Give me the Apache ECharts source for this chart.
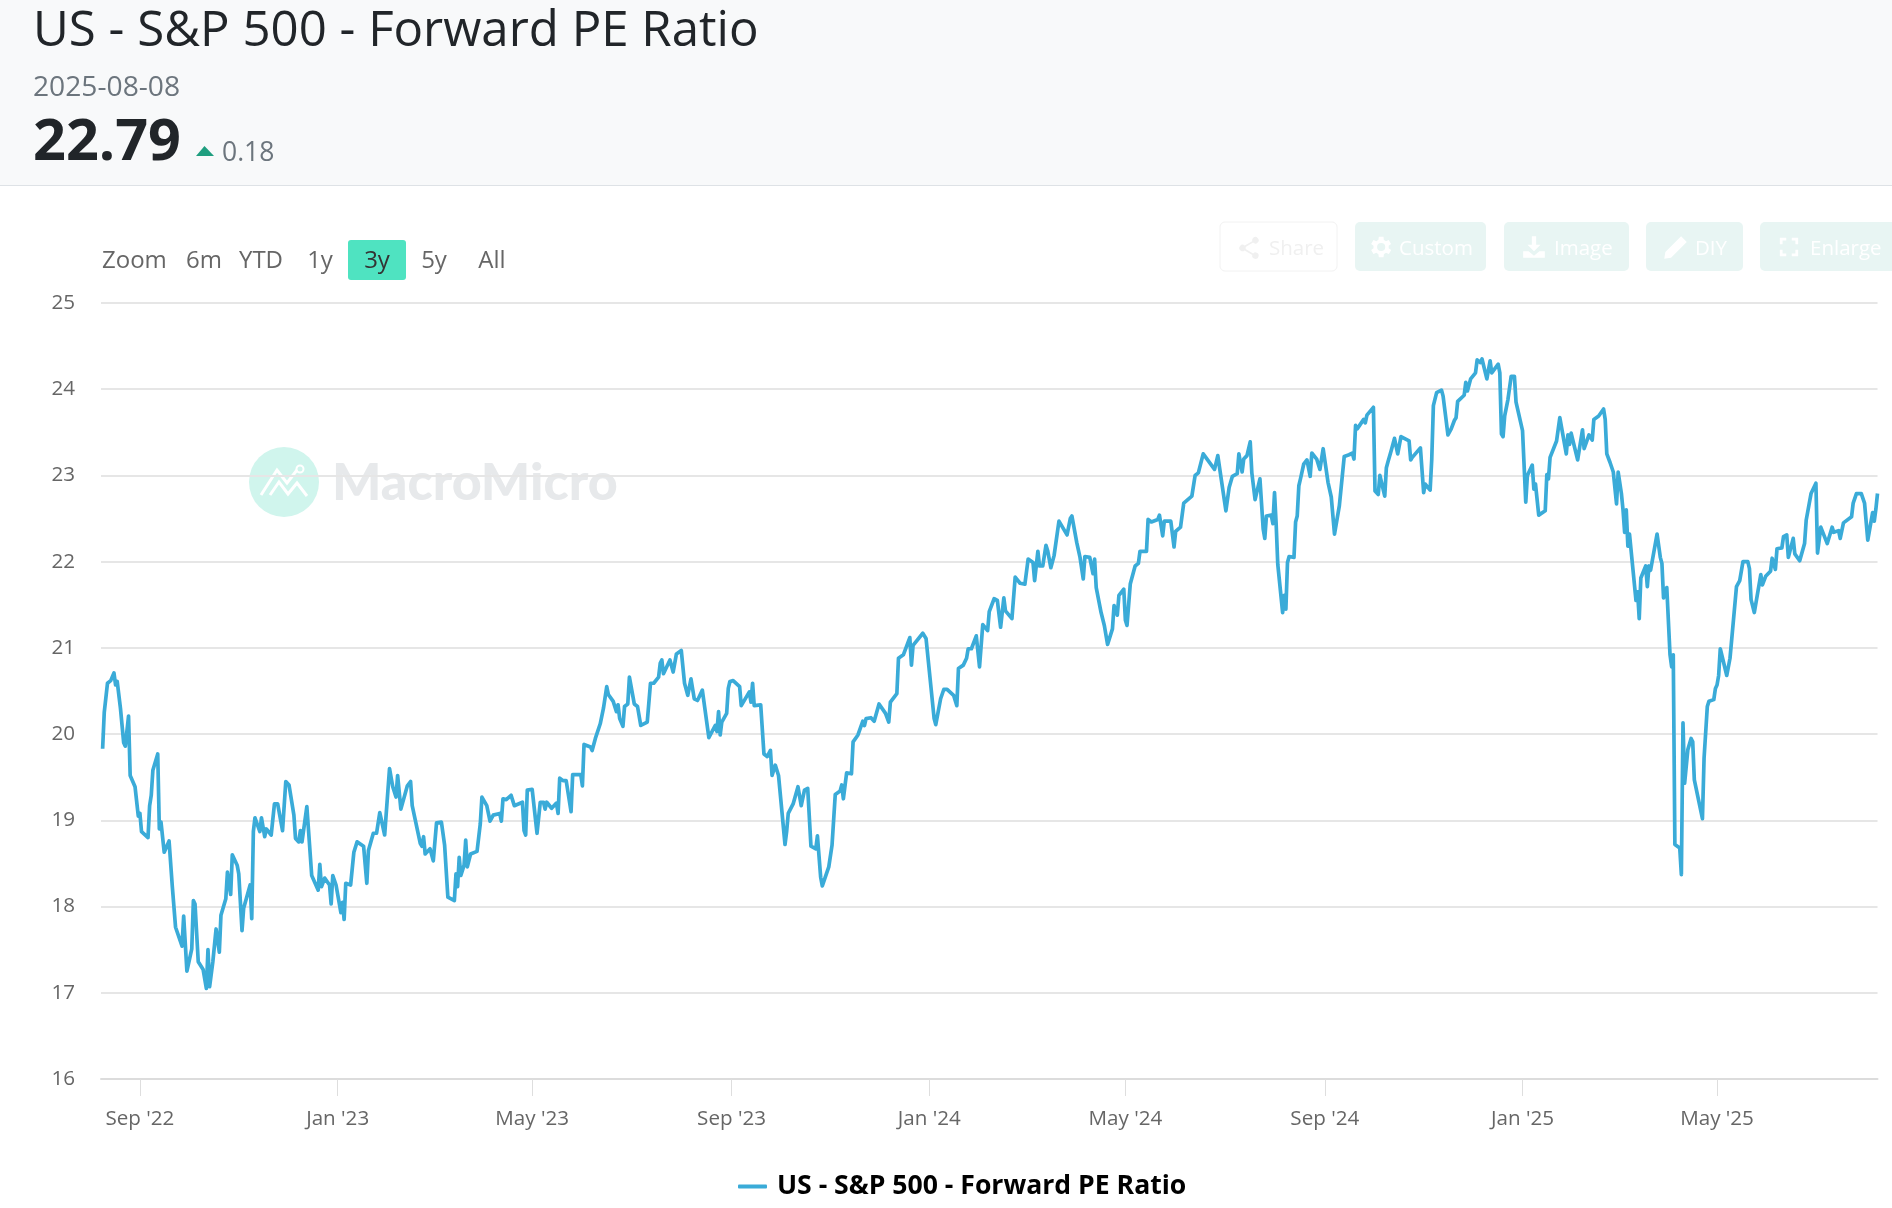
<!DOCTYPE html>
<html>
<head>
<meta charset="utf-8">
<title>US - S&amp;P 500 - Forward PE Ratio</title>
<script src="https://cdn.jsdelivr.net/npm/echarts@6/dist/echarts.min.js"></script>
<style>html,body{margin:0;padding:0;background:#fff}#chart{width:1892px;height:1208px}</style>
</head>
<body>
<div id="chart"></div>
<script>
const seriesName = "US - S&P 500 - Forward PE Ratio";
const startDate = "2022-08-08";
const endDate = "2025-08-08";
const latestDate = "2025-08-08";
const latestValue = "22.79";
const latestChange = "0.18";
const rangeLabels = ["6m", "YTD", "1y", "3y", "5y", "All"];
const tickDates = ["2022-09-01","2023-01-01","2023-05-01","2023-09-01","2024-01-01","2024-05-01","2024-09-01","2025-01-01","2025-05-01"];
const tickLabels = ["Sep '22","Jan '23","May '23","Sep '23","Jan '24","May '24","Sep '24","Jan '25","May '25"];
const daysSinceStart = [
1,2,3,4,6,8,9,10,12,14,15,17,18,21,23,
24,25,29,30,31,32,35,36,37,39,42,44,46,50,51,
53,56,57,58,60,63,65,66,67,69,71,73,74,77,78,
80,81,84,85,87,88,92,93,94,95,98,99,101,102,105,
107,109,112,113,114,116,119,120,122,123,124,127,130,134,135,
136,138,141,142,143,145,148,149,150,151,154,156,158,162,164,
165,168,170,172,175,178,180,182,183,185,189,191,192,197,198,
199,200,203,205,207,210,212,213,214,218,219,220,221,222,224,
225,226,228,232,234,235,238,240,242,246,247,248,250,253,254,
255,260,261,262,263,266,269,271,273,274,275,278,281,282,283,
285,287,290,291,296,297,298,302,303,305,308,310,311,312,313,
316,318,319,320,322,323,325,326,329,331,333,337,339,341,344,
345,346,347,351,353,355,358,360,362,364,366,368,371,375,376,
379,380,381,382,383,386,387,388,390,394,395,396,400,401,402,
403,407,409,411,413,414,415,416,418,422,423,424,427,430,432,
434,436,438,441,442,444,445,449,451,453,456,457,458,460,463,
464,467,470,471,472,475,477,478,480,484,486,487,491,492,493,
495,499,500,501,507,508,509,514,515,518,519,520,522,526,528,
529,532,534,535,537,540,541,542,544,547,548,549,551,553,555,
557,558,562,564,567,570,572,575,576,578,579,581,583,584,586,
588,591,592,596,598,599,602,604,605,606,607,610,611,612,613,
614,617,619,621,624,625,626,627,628,631,632,633,635,638,640,
641,645,646,648,652,653,655,656,660,662,663,666,668,669,673,
675,677,680,687,689,690,694,696,698,701,702,704,705,707,709,
710,712,715,716,717,718,719,722,723,724,725,726,729,730,731,
732,733,736,737,738,739,740,742,743,744,746,747,750,752,753,
754,757,759,761,764,767,770,772,773,774,775,779,780,781,782,
785,786,788,789,792,793,794,796,798,800,802,807,808,809,814,
816,817,820,821,822,824,827,828,829,831,833,835,836,837,841,
842,843,845,848,849,851,852,855,857,858,859,862,863,864,865,
866,868,870,872,873,877,879,880,883,884,885,887,891,892,893,
894,898,900,904,905,906,907,911,914,915,918,920,921,924,927,
928,929,931,933,934,935,936,938,939,940,941,942,943,947,948,
949,950,953,954,955,956,957,960,961,962,963,964,966,968,969,
970,971,974,975,976,977,979,981,982,983,984,988,989,991,992,
995,996,997,998,999,1003,1005,1006,1009,1011,1013,1016,1017,1018,1019,
1020,1024,1025,1027,1030,1031,1033,1034,1037,1038,1040,1041,1044,1045,1048,
1051,1052,1053,1055,1058,1059,1061,1065,1068,1069,1072,1073,1075,1080,1081,
1083,1086,1088,1090,1093,1094,1095,1096
];
const forwardPE = [
19.83,20.25,20.25,20.59,20.62,20.71,20.57,20.61,20.30,19.90,19.86,20.21,19.52,19.39,19.05,
19.08,18.87,18.80,19.17,19.29,19.58,19.77,18.90,18.98,18.63,18.76,18.23,17.76,17.54,17.89,
17.25,17.51,18.07,18.03,17.36,17.27,17.05,17.50,17.07,17.36,17.74,17.47,17.90,18.09,18.40,
18.14,18.60,18.48,18.38,17.72,17.98,18.25,17.86,18.87,19.03,18.87,19.03,18.81,18.90,18.83,
19.19,19.19,18.88,18.86,19.45,19.41,19.06,18.79,18.75,18.88,18.75,19.16,18.36,18.19,18.49,
18.23,18.33,18.25,18.03,18.36,18.25,17.93,18.05,17.85,18.27,18.25,18.63,18.75,18.70,18.27,
18.65,18.85,18.85,19.09,18.83,19.60,19.39,19.27,19.52,19.13,19.40,19.45,19.17,18.73,18.70,
18.81,18.61,18.67,18.53,18.97,18.98,18.71,18.71,18.11,18.07,18.38,18.23,18.57,18.36,18.48,
18.77,18.46,18.61,18.64,18.96,19.27,19.17,18.99,19.06,19.08,18.99,19.25,19.24,19.29,19.29,
19.17,19.21,18.88,18.83,19.35,19.36,18.85,19.21,19.21,19.13,19.21,19.14,19.20,19.08,19.49,
19.46,19.46,19.10,19.53,19.53,19.40,19.88,19.85,19.81,19.95,20.12,20.30,20.30,20.55,20.46,
20.38,20.26,20.34,20.18,20.09,20.32,20.35,20.66,20.35,20.32,20.10,20.14,20.59,20.59,20.66,
20.82,20.86,20.70,20.86,20.72,20.93,20.97,20.59,20.45,20.64,20.41,20.39,20.51,19.96,19.97,
20.10,20.03,20.26,19.99,20.14,20.24,20.53,20.61,20.62,20.55,20.33,20.33,20.49,20.37,20.59,
20.33,20.34,19.77,19.74,19.81,19.52,19.52,19.64,19.52,18.72,18.87,19.08,19.19,19.39,19.17,
19.35,19.37,18.70,18.67,18.82,18.34,18.24,18.46,18.71,19.30,19.34,19.41,19.25,19.55,19.54,
19.91,19.99,20.15,20.10,20.18,20.19,20.15,20.15,20.35,20.24,20.14,20.37,20.47,20.88,20.90,
20.92,21.12,20.80,21.03,21.17,21.19,21.11,20.18,20.11,20.41,20.43,20.52,20.52,20.45,20.33,
20.76,20.80,20.88,20.99,20.99,21.14,21.14,20.78,21.27,21.20,21.42,21.44,21.57,21.55,21.24,
21.58,21.43,21.34,21.82,21.75,21.74,22.03,21.99,21.78,22.12,21.95,21.95,22.19,22.13,21.93,
22.07,22.47,22.47,22.31,22.50,22.53,22.22,22.05,22.06,21.80,22.06,22.05,22.07,21.86,22.03,
21.70,21.41,21.26,21.04,21.22,21.49,21.47,21.38,21.61,21.68,21.32,21.26,21.74,21.95,21.98,
22.12,22.12,22.49,22.46,22.49,22.54,22.30,22.47,22.47,22.17,22.35,22.40,22.68,22.68,22.76,
23.00,23.03,23.25,23.07,23.23,23.23,22.59,22.86,22.99,23.02,23.25,23.04,23.19,23.23,23.39,
23.03,22.72,22.96,22.94,22.38,22.27,22.53,22.54,22.44,22.80,22.44,21.97,21.41,21.61,21.45,
21.99,22.06,22.05,22.46,22.53,22.88,22.96,23.13,23.15,23.18,22.99,23.26,23.19,23.07,23.07,
23.31,22.92,22.75,22.32,22.65,23.22,23.24,23.26,23.19,23.58,23.54,23.65,23.61,23.70,23.69,
23.79,22.82,22.78,23.00,22.76,23.09,23.16,23.29,23.43,23.25,23.45,23.40,23.18,23.21,23.32,
22.80,22.90,22.83,23.19,23.81,23.96,23.99,23.92,23.90,23.47,23.54,23.64,23.67,23.86,23.93,
24.08,23.98,24.12,24.19,24.34,24.31,24.35,24.12,24.33,24.19,24.20,24.29,24.19,23.48,23.45,
23.69,23.88,24.15,24.15,23.85,23.52,22.69,23.00,23.12,22.84,22.90,22.54,22.59,23.01,22.96,
23.21,23.40,23.67,23.25,23.47,23.36,23.49,23.18,23.53,23.31,23.47,23.41,23.65,23.69,23.77,
23.65,23.25,23.15,23.04,23.04,22.67,23.04,22.79,22.60,22.34,22.60,22.18,22.32,21.55,21.65,
21.34,21.81,21.95,21.71,21.95,21.90,21.92,22.32,22.34,22.05,21.98,21.58,21.70,20.92,20.78,
20.92,18.72,18.68,18.37,20.13,19.43,19.82,19.95,19.91,19.47,19.47,19.02,19.72,20.32,20.38,
20.40,20.53,20.57,20.68,20.99,20.68,20.88,20.90,21.71,21.78,22.00,22.00,21.92,21.56,21.56,
21.41,21.85,21.73,21.83,21.89,22.04,21.91,22.15,22.16,22.29,22.31,22.05,22.27,22.09,22.01,
22.21,22.48,22.50,22.79,22.91,22.10,22.40,22.21,22.40,22.34,22.36,22.27,22.45,22.52,22.68,
22.79,22.79,22.68,22.25,22.57,22.47,22.61,22.79
];

const FONT = '"Open Sans","Noto Sans",sans-serif';
const DAY = 86400000;
const t0 = Date.parse(startDate);
const lineData = daysSinceStart.map((d, i) => [t0 + d * DAY, forwardPE[i]]);
const tickValues = tickDates.map(d => Date.parse(d));

const iconPaths = {
  iconShare: 'M18 16a3 3 0 0 0-2.2 1L8.9 13a3 3 0 0 0 0-2l6.9-4a3 3 0 1 0-.9-2 3 3 0 0 0 .1.7L8 9.7a3 3 0 1 0 0 4.6l7 4.1a3 3 0 1 0 3-2.4z',
  iconGear: 'M19.4 13a7.6 7.6 0 0 0 0-2l2.1-1.6-2-3.4-2.5 1a7.6 7.6 0 0 0-1.7-1L15 3.3h-4L10.6 6a7.6 7.6 0 0 0-1.7 1l-2.5-1-2 3.4L6.5 11a7.6 7.6 0 0 0 0 2l-2.1 1.6 2 3.4 2.5-1a7.6 7.6 0 0 0 1.7 1l.4 2.7h4l.4-2.7a7.6 7.6 0 0 0 1.7-1l2.5 1 2-3.4zM13 15.5a3.5 3.5 0 1 1 0-7 3.5 3.5 0 0 1 0 7z',
  iconDownload: 'M10 2h4v8h4l-6 6-6-6h4zM2 16h5l5 4 5-4h5v6H2z',
  iconPencil: 'M17 2l5 5L8 21l-6 1 1-6z',
  iconEnlarge: 'M2 2h7v3H5v4H2zM15 2h7v7h-3V5h-4zM2 15h3v4h4v3H2zM19 15h3v7h-7v-3h4z'
};
Object.keys(iconPaths).forEach(function (k) {
  echarts.graphic.registerShape(k, echarts.graphic.extendPath(iconPaths[k], {}));
});

function txt(x, y, text, size, fill, opts) {
  return {
    type: 'text', x: x, y: y, z: 5, silent: true,
    style: {
      text: text, fill: fill, font: (opts && opts.weight ? opts.weight + ' ' : '') + size + 'px ' + FONT,
      textAlign: (opts && opts.align) || 'left', textVerticalAlign: 'middle'
    }
  };
}
function box(x, y, w, h, fill, stroke, r) {
  return { type: 'rect', z: 3, silent: true, shape: { x: x, y: y, width: w, height: h, r: r === undefined ? 5 : r },
    style: { fill: fill, stroke: stroke || null, lineWidth: stroke ? 1 : 0 } };
}
function icon(name, x, y, size, fill) {
  return { type: name, z: 5, silent: true, x: x, y: y, scaleX: size / 24, scaleY: size / 24, shape: {}, style: { fill: fill } };
}

const BTN = '#e8f5f3';
const graphics = [
  { type: 'rect', z: -3, silent: true, shape: { x: 0, y: 0, width: 1892, height: 185 }, style: { fill: '#f8f9fa' } },
  { type: 'rect', z: -3, silent: true, shape: { x: 0, y: 185, width: 1892, height: 1 }, style: { fill: '#dee2e6' } },
  txt(33, 88, latestDate, 28.2, '#6c757d'),
  txt(33, 144, latestValue, 57.5, '#212529', { weight: 700 }),
  { type: 'polygon', z: 5, silent: true, shape: { points: [[196, 156], [204.5, 146], [214, 156]] }, style: { fill: '#1f9e7f' } },
  txt(222, 153, latestChange, 26.5, '#6c757d'),
  box(348, 240, 58, 40, '#4fe3c1', null, 3),
  txt(102, 261, 'Zoom', 24, '#666666'),
  txt(204, 261, rangeLabels[0], 24, '#666666', { align: 'center' }),
  txt(261, 261, rangeLabels[1], 24, '#666666', { align: 'center' }),
  txt(320, 261, rangeLabels[2], 24, '#666666', { align: 'center' }),
  txt(377, 261, rangeLabels[3], 24, '#333333', { align: 'center' }),
  txt(434, 261, rangeLabels[4], 24, '#666666', { align: 'center' }),
  txt(492, 261, rangeLabels[5], 24, '#666666', { align: 'center' }),

  box(1220, 222, 117, 49, '#ffffff', '#f2f2f2'),
  icon('iconShare', 1236, 235, 26, '#f0f0f0'),
  txt(1269, 249, 'Share', 20.5, '#f0f0f0'),
  box(1355, 222, 131, 49, BTN),
  icon('iconGear', 1366, 233, 28, '#ffffff'),
  txt(1399, 249, 'Custom', 20.5, '#ffffff'),
  box(1504, 222, 125, 49, BTN),
  icon('iconDownload', 1521, 234, 26, '#ffffff'),
  txt(1554, 249, 'Image', 20.5, '#ffffff'),
  box(1646, 222, 97, 49, BTN),
  icon('iconPencil', 1662, 234, 27, '#ffffff'),
  txt(1695, 249, 'DIY', 20.5, '#ffffff'),
  box(1760, 222, 140, 49, BTN),
  icon('iconEnlarge', 1778, 236, 22, '#ffffff'),
  txt(1810, 249, 'Enlarge', 20.5, '#ffffff'),

  { type: 'circle', z: -1, silent: true, shape: { cx: 284, cy: 482, r: 35 }, style: { fill: '#d0f5ed' } },
  { type: 'polyline', z: -1, silent: true, shape: { points: [[261, 495], [277, 470], [287, 483], [297, 470]] }, style: { stroke: '#fff', lineWidth: 3, fill: null } },
  { type: 'polyline', z: -1, silent: true, shape: { points: [[270, 495], [279, 482], [288, 494], [297, 483], [307, 496]] }, style: { stroke: '#fff', lineWidth: 3, fill: null } },
  { type: 'circle', z: -1, silent: true, shape: { cx: 300, cy: 469, r: 3.5 }, style: { fill: null, stroke: '#fff', lineWidth: 2 } },
  { type: 'text', z: -1, silent: true, x: 332, y: 483, style: { text: 'MacroMicro', fill: '#e7e9eb', font: '900 52px Lato,' + FONT, textAlign: 'left', textVerticalAlign: 'middle' } }
];

const chart = echarts.init(document.getElementById('chart'), null, { renderer: 'canvas', width: 1892, height: 1208 });
chart.setOption({
  animation: false,
  backgroundColor: '#ffffff',
  textStyle: { fontFamily: FONT },
  title: { text: seriesName, left: 33, top: 7, padding: 0, textStyle: { fontSize: 49.2, fontWeight: 400, color: '#212529', fontFamily: FONT } },
  legend: {
    data: [{ name: seriesName }], bottom: 8, left: 738, padding: 0, icon: 'roundRect', itemWidth: 29, itemHeight: 4, itemGap: 10,
    textStyle: { fontSize: 26.6, fontWeight: 700, color: '#000000', fontFamily: FONT, padding: [0, 0, 0, 5] }
  },
  grid: { left: 101, right: 14.5, top: 303, height: 776, containLabel: false },
  xAxis: {
    type: 'value', min: t0, max: Date.parse(endDate), scale: true,
    axisLine: { show: true, onZero: false, lineStyle: { color: '#dcdcdc', width: 2 } },
    axisTick: { show: true, length: 17, customValues: tickValues, lineStyle: { color: '#dedede', width: 1 } },
    axisLabel: {
      show: true, customValues: tickValues, margin: 30, fontSize: 20.6, color: '#666666', fontFamily: FONT,
      formatter: function (v) { const i = tickValues.indexOf(+v); return i >= 0 ? tickLabels[i] : ''; }
    },
    splitLine: { show: false }
  },
  yAxis: {
    type: 'value', min: 16, max: 25, interval: 1,
    axisLine: { show: false }, axisTick: { show: false },
    axisLabel: { margin: 26, fontSize: 20.6, color: '#666666', fontFamily: FONT },
    splitLine: { show: true, lineStyle: { color: '#e6e6e6', width: 2 } }
  },
  series: [{
    name: seriesName, type: 'line', data: lineData, showSymbol: false, symbol: 'none', smooth: false,
    sampling: null, clip: false, z: 4,
    lineStyle: { color: '#3aabd8', width: 3.7, join: 'round' }, itemStyle: { color: '#3aabd8' }
  }],
  graphic: { elements: graphics }
});
</script>
</body>
</html>
